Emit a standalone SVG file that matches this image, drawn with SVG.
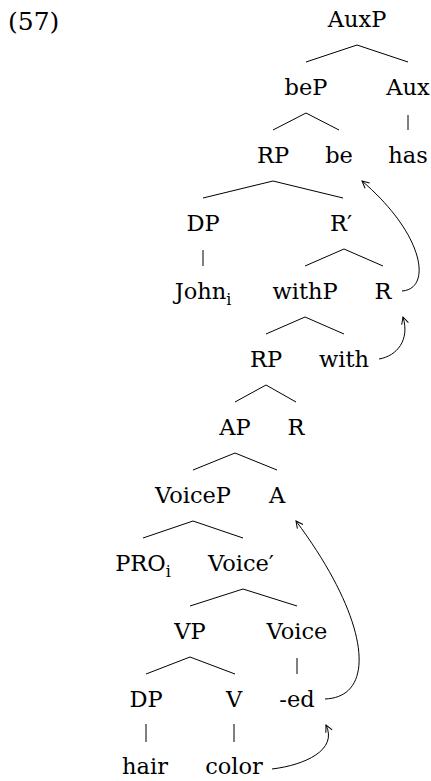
<svg xmlns="http://www.w3.org/2000/svg" width="431" height="781" viewBox="0 0 431 781">
<defs>
<style>
text{font-family:"DejaVu Serif","Liberation Serif",serif;font-size:22.5px;fill:#000;text-anchor:middle}
.sub{font-size:16px}
.edge line{stroke:#000;stroke-width:1}
.mv path{fill:none;stroke:#000;stroke-width:1}
</style>
<marker id="ah" viewBox="-8 -5 10 10" markerWidth="10" markerHeight="10" refX="0" refY="0" orient="auto" markerUnits="userSpaceOnUse">
<path d="M-7,-3.5 L0,0 L-7,3.5" fill="none" stroke="#000" stroke-width="1"/>
</marker>
</defs>
<rect width="431" height="781" fill="#fff"/>
<text x="8" y="30" style="text-anchor:start;font-size:25px">(57)</text>
<g id="n-auxp"><text x="357" y="27">AuxP</text></g>
<g id="n-bep"><text x="306" y="95">beP</text></g>
<g id="n-aux"><text x="408" y="95">Aux</text></g>
<g id="n-rp1"><text x="273" y="163">RP</text></g>
<g id="n-be"><text x="339" y="163">be</text></g>
<g id="n-has"><text x="408" y="163">has</text></g>
<g id="n-dp1"><text x="203" y="231">DP</text></g>
<g id="n-rbar"><text x="341" y="231">R′</text></g>
<g id="n-john"><text x="203" y="299">John<tspan class="sub" dy="6">i</tspan></text></g>
<g id="n-withp"><text x="305" y="299">withP</text></g>
<g id="n-r1"><text x="383" y="299">R</text></g>
<g id="n-rp2"><text x="266" y="367">RP</text></g>
<g id="n-with"><text x="344" y="367">with</text></g>
<g id="n-ap"><text x="235" y="435">AP</text></g>
<g id="n-r2"><text x="296" y="435">R</text></g>
<g id="n-voicep"><text x="193" y="503">VoiceP</text></g>
<g id="n-a"><text x="277" y="503">A</text></g>
<g id="n-pro"><text x="143" y="571">PRO<tspan class="sub" dy="6">i</tspan></text></g>
<g id="n-voicebar"><text x="241" y="571">Voice′</text></g>
<g id="n-vp"><text x="190" y="639">VP</text></g>
<g id="n-voice"><text x="297" y="639">Voice</text></g>
<g id="n-dp2"><text x="146" y="707">DP</text></g>
<g id="n-v"><text x="234" y="707">V</text></g>
<g id="n-ed"><text x="297" y="707">-ed</text></g>
<g id="n-hair"><text x="145" y="774">hair</text></g>
<g id="n-color"><text x="234" y="774">color</text></g>
<g id="connectors">
<g class="edge">
<line x1="357" y1="45" x2="306" y2="62"/><line x1="357" y1="45" x2="408" y2="62"/>
<line x1="408" y1="115" x2="408" y2="130"/>
<line x1="306" y1="113" x2="273" y2="130"/><line x1="306" y1="113" x2="339" y2="130"/>
<line x1="273" y1="181" x2="203" y2="198"/><line x1="273" y1="181" x2="343" y2="198"/>
<line x1="203" y1="250" x2="203" y2="266"/>
<line x1="344" y1="249" x2="305" y2="266"/><line x1="344" y1="249" x2="383" y2="266"/>
<line x1="305" y1="317" x2="266" y2="334"/><line x1="305" y1="317" x2="344" y2="334"/>
<line x1="266" y1="385" x2="235" y2="402"/><line x1="266" y1="385" x2="296" y2="402"/>
<line x1="235" y1="453" x2="193" y2="470"/><line x1="235" y1="453" x2="277" y2="470"/>
<line x1="193" y1="521" x2="143" y2="538"/><line x1="193" y1="521" x2="243" y2="538"/>
<line x1="243" y1="589" x2="190" y2="606"/><line x1="243" y1="589" x2="297" y2="606"/>
<line x1="190" y1="657" x2="146" y2="674"/><line x1="190" y1="657" x2="235" y2="674"/>
<line x1="297" y1="658" x2="297" y2="674"/>
<line x1="146" y1="724" x2="146" y2="742"/>
<line x1="234" y1="724" x2="234" y2="742"/>
</g>
<g class="mv">
<path d="M402,291 C432,289 425,235 362,181" marker-end="url(#ah)"/>
<path d="M379,359 C397,356 410,340 403,317" marker-end="url(#ah)"/>
<path d="M325,699 C378,697 370,620 296,521" marker-end="url(#ah)"/>
<path d="M272,769 C305,765 338,750 326,725" marker-end="url(#ah)"/>
</g>
</g>
</svg>
